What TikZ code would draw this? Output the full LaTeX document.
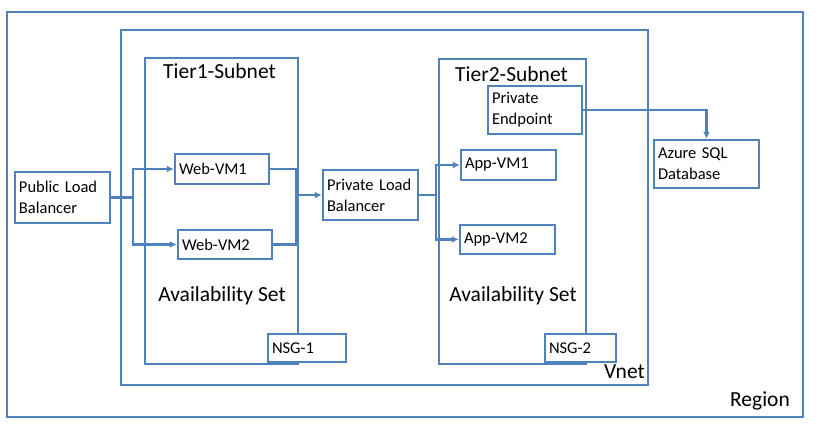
\documentclass[tikz,border=0pt]{standalone}
\usepackage{fontspec}
\setmainfont{Carlito}
\usetikzlibrary{arrows.meta}
\definecolor{azblue}{RGB}{79,129,189}
\begin{document}
\begin{tikzpicture}[x=1pt,y=-1pt,
    box/.style = {draw=azblue, line width=2.5pt, fill=white, rectangle,
      inner xsep=4pt, inner ysep=3pt, align=left, font=\fontsize{16.5}{21}\selectfont},
    group/.style = {draw=azblue, line width=2.5pt, rectangle, inner sep=0pt},
    biglabel/.style = {inner sep=0pt, font=\fontsize{21.5}{26}\selectfont},
    link/.style = {draw=azblue, line width=2.2pt},
    arrow/.style = {link, -{Latex[length=7pt,width=7pt]}}
  ]
  \useasboundingbox (0,0) rectangle (822,428);
  % containers
  \node[group, minimum width=796, minimum height=405] (region) at (405,214.5) {};
  \node[group, minimum width=527, minimum height=355] (vnet) at (384.5,207.5) {};
  \node[group, minimum width=153, minimum height=306] (sub1) at (221.5,211) {};
  \node[group, minimum width=147, minimum height=305] (sub2) at (512.5,211.5) {};
  \node[biglabel, anchor=west] (sub1title) at (163,71) {Tier1-Subnet};
  \node[biglabel, anchor=west] (sub2title) at (455,74) {Tier2-Subnet};
  \node[biglabel] (avset1) at (222,296) {Availability Set};
  \node[biglabel] (avset2) at (513,296) {Availability Set};
  \node[biglabel, anchor=east] (vnetlabel) at (645,372) {Vnet};
  \node[biglabel, anchor=east] (regionlabel) at (790,401) {Region};

  % boxes
  \node[box, minimum width=95, minimum height=51, text width=87] (publb) at (62.5,197.5) {Public Load\\Balancer};
  \node[box, minimum width=94, minimum height=30, text width=86] (web1) at (222,169) {Web-VM1};
  \node[box, minimum width=94, minimum height=29, text width=86] (web2) at (225,244.5) {Web-VM2};
  \node[box, minimum width=95, minimum height=50, text width=87] (privlb) at (370.5,195) {Private Load\\Balancer};
  \node[box, minimum width=94, minimum height=48, text width=86] (endpoint) at (535,110) {Private\\Endpoint};
  \node[box, minimum width=95, minimum height=30, text width=87] (app1) at (508.5,165) {App-VM1};
  \node[box, minimum width=95, minimum height=29, text width=87] (app2) at (507.5,239.5) {App-VM2};
  \node[box, minimum width=105, minimum height=48, text width=97] (sql) at (706.5,164) {Azure SQL\\Database};
  \node[box, minimum width=78, minimum height=28, text width=70] (nsg1) at (307,348) {NSG-1};
  \node[box, minimum width=71, minimum height=28, text width=63] (nsg2) at (580.5,348) {NSG-2};

  % connectors
  \coordinate (split1) at (133,197.5);
  \coordinate (join1) at (296,195);
  \coordinate (split2) at (436,195);
  \draw[link] (publb.east) -- (split1);
  \draw[arrow] (split1) |- (web1.west);
  \draw[arrow] (split1) |- (web2.west);
  \draw[link] (web1.east) -| (join1) |- (web2.east);
  \draw[arrow] (join1) -- (privlb.west);
  \draw[link] (privlb.east) -- (split2);
  \draw[arrow] (split2) |- (app1.west);
  \draw[arrow] (split2) |- (app2.west);
  \draw[arrow] (endpoint.east) -| (sql.north);
\end{tikzpicture}
\end{document}
